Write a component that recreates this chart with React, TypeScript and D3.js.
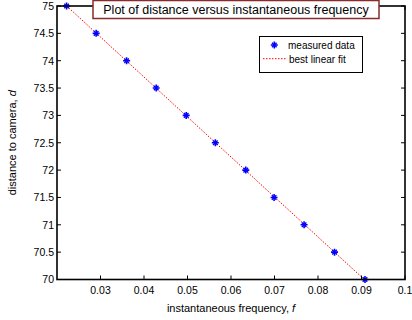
import React from "react";
import * as d3 from "d3";

const frequency = [0.0222, 0.0290, 0.0360, 0.0428, 0.0497, 0.0564, 0.0634, 0.0699, 0.0768, 0.0838, 0.0908];
const distance = [75, 74.5, 74, 73.5, 73, 72.5, 72, 71.5, 71, 70.5, 70];
const xTicks = [0.03, 0.04, 0.05, 0.06, 0.07, 0.08, 0.09, 0.1];
const yTicks = [70, 70.5, 71, 71.5, 72, 72.5, 73, 73.5, 74, 74.5, 75];

const W = 412, H = 320;
const L = 57, R = 405, T = 6, B = 279.5;
const FONT = "Liberation Sans, Arial, sans-serif";

export default function App() {
  const x = d3.scaleLinear().domain([0.02, 0.1]).range([L, R]);
  const y = d3.scaleLinear().domain([70, 75]).range([B, T]);

  // least squares fit
  const mx = d3.mean(frequency)!, my = d3.mean(distance)!;
  let sxy = 0, sxx = 0;
  frequency.forEach((f, i) => { sxy += (f - mx) * (distance[i] - my); sxx += (f - mx) ** 2; });
  const slope = sxy / sxx, icpt = my - slope * mx;
  const fx = d3.extent(frequency) as [number, number];
  const fitLine = d3.line<number>().x(f => x(f)).y(f => y(icpt + slope * f))(fx)!;

  const star = (cx: number, cy: number, k: number) => (
    <g key={k}>
      <path d={`M${cx - 3.5},${cy}L${cx + 3.5},${cy}M${cx},${cy - 3.5}L${cx},${cy + 3.5}`} stroke="#0000ff" strokeWidth={1.6} />
      <path d={`M${cx - 2.3},${cy - 2.3}L${cx + 2.3},${cy + 2.3}M${cx - 2.3},${cy + 2.3}L${cx + 2.3},${cy - 2.3}`} stroke="#0000ff" strokeWidth={1.4} />
    </g>
  );

  return (
    <svg width={W} height={H} style={{ position: "absolute", left: 0, top: 0, background: "#fff" }} fontFamily={FONT}>
      <rect x={0} y={0} width={W} height={H} fill="#fff" />
      <defs>
        <clipPath id="plotclip"><rect x={L} y={T} width={R - L} height={B - T} /></clipPath>
      </defs>
      {/* fit line */}
      <path d={fitLine} stroke="#ff0000" strokeWidth={1} strokeDasharray="1.5,1.5" fill="none" clipPath="url(#plotclip)" />
      {/* markers */}
      {frequency.map((f, i) => star(x(f), y(distance[i]), i))}
      {/* axes box */}
      <rect x={L} y={T} width={R - L} height={B - T} fill="none" stroke="#000" strokeWidth={1.6} />
      {/* x ticks */}
      {xTicks.map(t => (
        <g key={"x" + t}>
          <line x1={x(t)} x2={x(t)} y1={B} y2={B - 4} stroke="#000" />
          <line x1={x(t)} x2={x(t)} y1={T} y2={T + 4} stroke="#000" />
          <text x={x(t)} y={294} fontSize={10.5} textAnchor="middle" fill="#000">{String(t)}</text>
        </g>
      ))}
      {yTicks.map(t => (
        <g key={"y" + t}>
          <line x1={L} x2={L + 4} y1={y(t)} y2={y(t)} stroke="#000" />
          <line x1={R} x2={R - 4} y1={y(t)} y2={y(t)} stroke="#000" />
          <text x={54} y={y(t) + 3.8} fontSize={10.5} textAnchor="end" fill="#000">{String(t)}</text>
        </g>
      ))}
      {/* axis labels */}
      <text x={(L + R) / 2} y={312} fontSize={11} textAnchor="middle" fill="#000">
        instantaneous frequency, <tspan fontStyle="italic">f</tspan>
      </text>
      <text transform={`translate(16,${(T + B) / 2}) rotate(-90)`} fontSize={11} textAnchor="middle" fill="#000">
        distance to camera, <tspan fontStyle="italic">d</tspan>
      </text>
      {/* title box */}
      <rect x={93} y={0.5} width={286} height={18} fill="#fff" stroke="#8b2a2a" strokeWidth={1.5} />
      <text x={236} y={14} fontSize={12.5} textAnchor="middle" fill="#000">Plot of distance versus instantaneous frequency</text>
      {/* legend */}
      <rect x={259.5} y={36.5} width={103} height={36} fill="#fff" stroke="#000" strokeWidth={1} />
      {star(274.3, 45, 99)}
      <text x={288} y={48.5} fontSize={10} fill="#000">measured data</text>
      <line x1={263} x2={287} y1={58.7} y2={58.7} stroke="#ff0000" strokeWidth={1} strokeDasharray="1.5,1.5" />
      <text x={289} y={62.5} fontSize={10} fill="#000">best linear fit</text>
    </svg>
  );
}
